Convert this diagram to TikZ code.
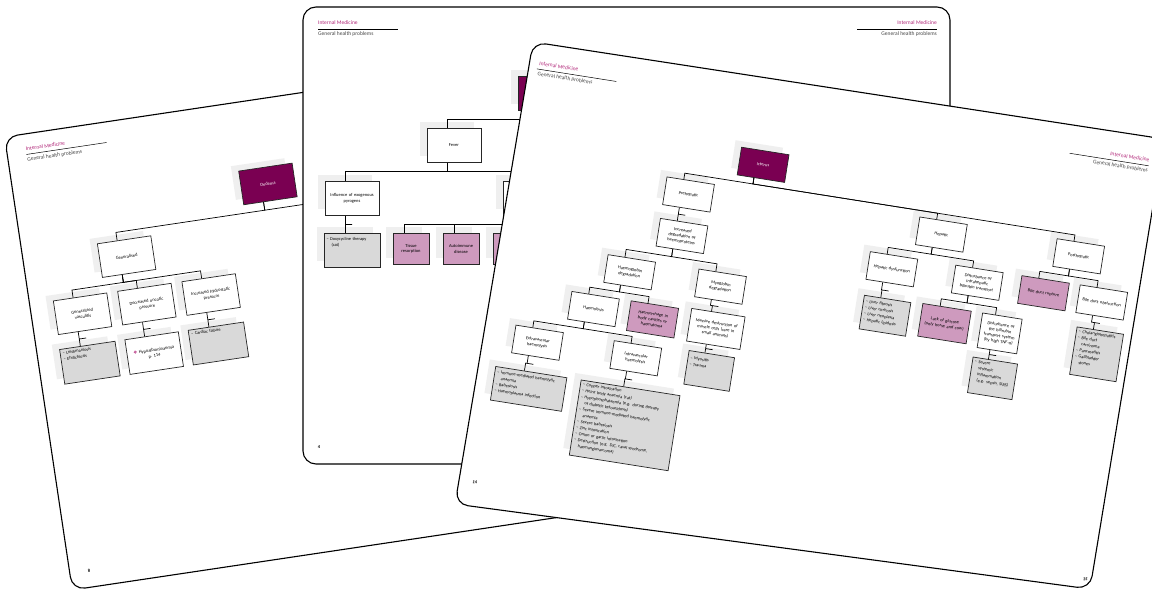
\documentclass[tikz,border=0pt]{standalone}
\usepackage{fontspec}
\setmainfont{Carlito}
\newfontfamily\symbolfont{DejaVu Sans}
\usetikzlibrary{calc,shadows}

\definecolor{plumdark}{RGB}{122,0,82}
\definecolor{plumlight}{RGB}{206,154,190}
\definecolor{plumhead}{RGB}{178,40,122}
\definecolor{listgray}{RGB}{217,217,217}
\definecolor{shadegray}{RGB}{239,239,239}
\definecolor{subgray}{RGB}{70,70,70}

\newcommand{\boxfont}{\fontsize{4.5}{5.6}\selectfont}
\newcommand{\listfont}{\fontsize{4.4}{6.2}\selectfont}
\newcommand{\headfont}{\fontsize{5.5}{6.5}\selectfont}
% elbow connector from a parent box down to a child box (drops sit a little left of centre)
\newcommand{\joinbox}[2]{\draw[link] ($(#1.south)!7pt!(#1.south west)$) |- ($(#1.south)!0.5!(#2.north)$) -| ($(#2.north)!7pt!(#2.north west)$);}

\tikzset{
  pagecard/.style={draw=black, line width=1.1pt, fill=white, rounded corners=13pt},
  link/.style={draw=black, line width=0.7pt},
  boxshadow/.style={general shadow={fill=shadegray, shadow xshift=-7pt, shadow yshift=6pt}},
  chartbox/.style={boxshadow, draw=black!85, line width=0.7pt, fill=white, anchor=north,
    align=center, inner sep=1.5pt, text width=51pt, minimum height=34pt, font=\boxfont},
  smallchart/.style={chartbox, text width=45pt, minimum height=28pt},
  topic/.style={fill=plumdark, text=white},
  cause/.style={fill=plumlight},
  listbox/.style={chartbox, fill=listgray, align=left, inner xsep=2.5pt, text height=4pt, font=\listfont},
  pagehead/.style={inner sep=0pt, font=\headfont},
  pagenum/.style={inner sep=0pt, font=\fontsize{4.5}{5}\selectfont\bfseries},
}

\begin{document}
\begin{tikzpicture}[x=1pt,y=-1pt]
\useasboundingbox (0,0) rectangle (1152,593);

% page 8 (back, left)
\begin{scope}[transform canvas={shift={(4.6,137)},rotate=8.5}]
\draw[pagecard] (0,0) rectangle (600,458);
\node[pagehead, anchor=west, text=plumhead] (imA) at (19,15) {Internal Medicine};
\draw[line width=0.5pt] (19,20.5) -- (100,20.5);
\node[pagehead, anchor=west, text=subgray] (ghpA) at (19,26) {General health problems};

\node[chartbox, topic] (oedema) at (253.5,68) {Oedema};
\node[chartbox] (generalised) at (103,119) {Generalised};
\coordinate (oedemaright) at (400,119);
\node[chartbox] (vasculitis) at (51,169) {Generalised\\vasculitis};
\node[chartbox] (oncotic) at (116,169) {Decreased oncotic\\pressure};
\node[chartbox] (hydrostatic) at (181,169) {Increased hydrostatic\\pressure};
\node[listbox, text depth=28pt] (infections) at (51,218) {–~Leishmaniosis\\–~Ehrlichiosis};
\node[chartbox, minimum height=35pt] (albumin) at (116,218) {{\symbolfont\color{plumhead}❖}~Hypoalbuminaemia\\p.~114};
\node[listbox, text depth=28pt] (cardiac) at (181,218) {–~Cardiac failure};

\joinbox{oedema}{generalised}
\draw[link] ($(oedema.south)!7pt!(oedema.south west)$) |- ($(oedema.south)!0.5!(oedemaright)$) -| (oedemaright);
\joinbox{generalised}{vasculitis}
\joinbox{generalised}{oncotic}
\joinbox{generalised}{hydrostatic}
\joinbox{vasculitis}{infections}
\joinbox{oncotic}{albumin}
\joinbox{hydrostatic}{cardiac}

\node[pagenum] (numA) at (19.4,441.7) {8};
\end{scope}

% page 4 (middle)
\draw[pagecard] (303,7) rectangle (950,464);
\node[pagehead, anchor=west, text=plumhead] (imB) at (318,23) {Internal Medicine};
\draw[line width=0.5pt] (318,29) -- (398,29);
\node[pagehead, anchor=west, text=subgray] (ghpB) at (318,34) {General health problems};
\node[pagehead, anchor=east, text=plumhead] (imC) at (937,23) {Internal Medicine};
\draw[line width=0.5pt] (857,29) -- (937,29);
\node[pagehead, anchor=east, text=subgray] (ghpC) at (937,34) {General health problems};

\node[chartbox, topic] (headB) at (545,76) {};
\node[chartbox] (fever) at (454,128) {Fever};
\node[chartbox] (exogenous) at (352,181) {Influence of exogenous\\pyrogens};
\node[chartbox] (endogenous) at (530,181) {};
\node[listbox, text depth=24pt] (doxy) at (352,233) {–~Doxycycline therapy\\\hspace*{5pt}(cat)};
\node[chartbox, cause, text width=33pt, minimum height=31pt] (tissue) at (411,233) {Tissue\\resorption};
\node[chartbox, cause, text width=33pt, minimum height=31pt] (autoimmune) at (461,233) {Autoimmune\\disease};
\node[chartbox, cause, text width=33pt, minimum height=31pt] (thirdB) at (511,233) {};

\joinbox{headB}{fever}
\joinbox{fever}{exogenous}
\joinbox{fever}{endogenous}
\joinbox{exogenous}{doxy}
\joinbox{endogenous}{tissue}
\joinbox{endogenous}{autoimmune}
\joinbox{endogenous}{thirdB}

\node[pagenum] (numB) at (319,447) {4};

% pages 14-15 (front)
\draw[pagecard] (533,42) -- (1164,139) -- (1090,589) -- (455,504) -- cycle;
\begin{scope}[transform canvas={shift={(533,45)},rotate=-9}]
\node[pagehead, anchor=west, text=plumhead] (imD) at (9,17) {Internal Medicine};
\draw[line width=0.5pt] (7.5,23) -- (88,23);
\node[pagehead, anchor=west, text=subgray] (ghpD) at (9,28) {General health problems};
\node[pagehead, anchor=east, text=plumhead] (imE) at (627,17) {Internal Medicine};
\draw[line width=0.5pt] (547,23) -- (627,23);
\node[pagehead, anchor=east, text=subgray] (ghpE) at (627,28) {General health problems};

\node[smallchart, topic] (icterus) at (246,68) {Icterus};
\node[smallchart] (prehepatic) at (177,109) {Prehepatic};
\node[smallchart] (hepatic) at (433,109) {Hepatic};
\node[smallchart] (posthepatic) at (572,109) {Posthepatic};

\node[smallchart] (degradation) at (177,151) {Increased\\degradation of\\haemoproteins};
\node[smallchart] (hepdysfunction) at (389.5,151) {Hepatic dysfunction};
\node[smallchart] (intrahepatic) at (476,151) {Disturbance of\\intrahepatic\\bilirubin transport};
\node[smallchart, cause] (rupture) at (543,151) {Bile duct rupture};
\node[smallchart] (obstruction) at (602,151) {Bile duct obstruction};

\node[smallchart] (hbdegradation) at (131,195) {Haemoglobin\\degradation};
\node[smallchart] (mbdegradation) at (223,195) {Myoglobin\\degradation};
\node[listbox, text width=42pt, text depth=24pt] (liverlist) at (390,195)
  {–~Liver fibrosis\\–~Liver cirrhosis\\–~Liver neoplasia\\–~Hepatic lipidosis};
\node[smallchart, cause, text width=46pt, minimum height=33pt] (glucose) at (450,194)
  {Lack of glucose\\(only horse and cow)};
\node[smallchart, text width=37pt, minimum height=35pt] (tnf) at (506,194)
  {Disturbance of\\the bilirubin\\transport system\\(by high TNF-α)};
\node[listbox, text width=42pt, text depth=41pt] (cholangio) at (605,193)
  {–~Cholangiohepatitis\\–~Bile duct\\\hspace*{4.5pt}carcinoma\\–~Pancreatitis\\–~Gallbladder\\\hspace*{4.5pt}stones};

\node[smallchart] (haemolysis) at (101,237) {Haemolysis};
\node[smallchart, cause, minimum height=30pt] (haemorrhage) at (161,237)
  {Haemorrhage in\\body cavities or\\haematoma};
\node[smallchart, text width=51pt, minimum height=33pt] (muscle) at (225,235)
  {Massive destruction of\\muscle cells (rare in\\small animals)};
\node[listbox, text width=40pt, text depth=29pt] (sepsis) at (506,239)
  {–~Severe\\\hspace*{4.5pt}systemic\\\hspace*{4.5pt}inflammation\\\hspace*{4.5pt}(e.g. sepsis, SIRS)};

\node[smallchart] (extravascular) at (51,279) {Extravascular\\haemolysis};
\node[smallchart] (intravascular) at (150.5,279) {Intravascular\\haemolysis};
\node[listbox, text width=41pt, text depth=21pt] (myositis) at (225,277) {–~Myositis\\–~Trauma};

\node[listbox, text width=67pt, text depth=25pt] (extralist) at (49.5,323)
  {–~Immune-mediated haemolytic\\\hspace*{4.5pt}anaemia\\–~Babesiosis\\–~Haemoplasma infection};
\node[listbox, text width=95pt, text depth=69pt] (intralist) at (150,323)
  {–~Copper intoxication\\–~Heinz body anaemia (cat)\\–~Hypophosphataemia (e.g. during therapy\\\hspace*{4.5pt}of diabetic ketoacidosis)\\–~Severe immune-mediated haemolytic\\\hspace*{4.5pt}anaemia\\–~Severe babesiosis\\–~Zinc intoxication\\–~Onion or garlic intoxication\\–~Destruction (e.g. DIC, caval syndrome,\\\hspace*{4.5pt}haemangiosarcoma)};

\joinbox{icterus}{prehepatic}
\joinbox{icterus}{hepatic}
\joinbox{icterus}{posthepatic}
\joinbox{prehepatic}{degradation}
\joinbox{degradation}{hbdegradation}
\joinbox{degradation}{mbdegradation}
\joinbox{hbdegradation}{haemolysis}
\joinbox{hbdegradation}{haemorrhage}
\joinbox{mbdegradation}{muscle}
\joinbox{muscle}{myositis}
\joinbox{haemolysis}{extravascular}
\joinbox{haemolysis}{intravascular}
\joinbox{extravascular}{extralist}
\joinbox{intravascular}{intralist}
\joinbox{hepatic}{hepdysfunction}
\joinbox{hepatic}{intrahepatic}
\joinbox{hepdysfunction}{liverlist}
\joinbox{intrahepatic}{glucose}
\joinbox{intrahepatic}{tnf}
\joinbox{tnf}{sepsis}
\joinbox{posthepatic}{rupture}
\joinbox{posthepatic}{obstruction}
\joinbox{obstruction}{cholangio}

\node[pagenum] (numD) at (11,441) {14};
\node[pagenum] (numE) at (629,441) {15};
\end{scope}
\end{tikzpicture}
\end{document}
